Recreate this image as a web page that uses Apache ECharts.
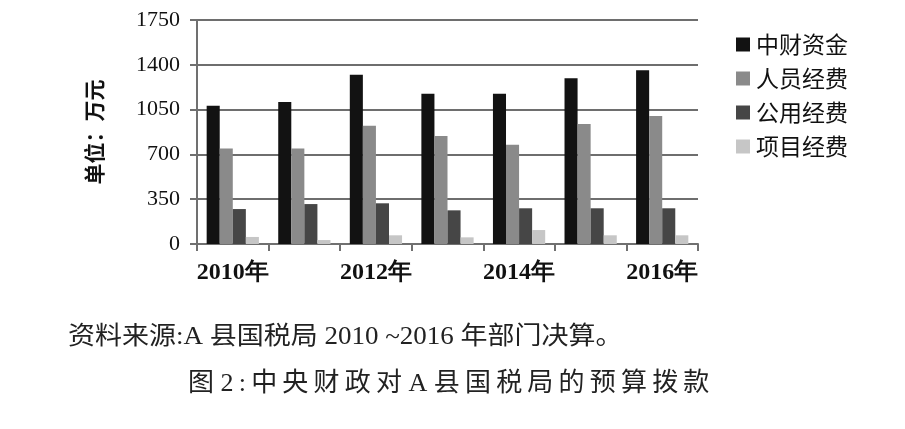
<!DOCTYPE html>
<html>
<head>
<meta charset="utf-8">
<script src="https://cdn.jsdelivr.net/npm/echarts@6/dist/echarts.min.js"></script>
<style>html,body{margin:0;padding:0;background:#fff;}#c{width:905px;height:429px;}</style>
</head>
<body>
<div id="c"></div>
<script>
const categories = ['2010年','2011年','2012年','2013年','2014年','2015年','2016年'];
const seriesNames = ['中财资金','人员经费','公用经费','项目经费'];
const zhongcai = [1081, 1109, 1323, 1174, 1174, 1294, 1357];
const renyuan = [747, 747, 924, 844, 776, 937, 1000];
const gongyong = [273, 312, 318, 263, 279, 279, 279];
const xiangmu = [55, 31, 68, 52, 109, 68, 68];
const yTicks = [0, 350, 700, 1050, 1400, 1750];
const colors = ['#121212', '#8a8a8a', '#464646', '#c6c6c6'];
const values = [zhongcai, renyuan, gongyong, xiangmu];
const noteText = '资料来源:A 县国税局 2010 ~2016 年部门决算。';
const titleText = '图 2:中央财政对 A 县国税局的预算拨款';

const spaced = s => {
  const ch = Array.from(s);
  let out = '';
  ch.forEach((c, i) => {
    out += c;
    if (i < ch.length - 1 && c !== ' ' && ch[i + 1] !== ' ') out += '\u2009';
  });
  return out;
};

const chart = echarts.init(document.getElementById('c'));
chart.setOption({
  animation: false,
  backgroundColor: '#fff',
  grid: { left: 197, right: 207, top: 20, bottom: 185 },
  legend: {
    orient: 'vertical',
    left: 731, top: 28,
    itemWidth: 14, itemHeight: 14, itemGap: 11,
    icon: 'rect',
    textStyle: { fontFamily: 'Noto Sans CJK SC', fontSize: 23, color: '#111', padding: [0,0,0,1] },
    data: seriesNames
  },
  xAxis: {
    type: 'category',
    data: categories,
    boundaryGap: true,
    axisLine: { lineStyle: { color: '#707070', width: 2 } },
    axisTick: { show: true, length: 7, interval: 0, lineStyle: { color: '#707070', width: 2 } },
    axisLabel: { interval: 1, margin: 17, fontFamily: 'Liberation Serif', fontWeight: 'bold', fontSize: 24, color: '#111' }
  },
  yAxis: {
    type: 'value',
    min: yTicks[0], max: yTicks[yTicks.length - 1], interval: 350,
    name: '单位：万元',
    nameLocation: 'middle',
    nameRotate: 90,
    nameGap: 92,
    nameTextStyle: { fontFamily: 'Noto Sans CJK SC', fontWeight: 'bold', fontSize: 21, color: '#111' },
    axisLine: { show: true, lineStyle: { color: '#707070', width: 2 } },
    axisTick: { show: true, length: 7, lineStyle: { color: '#707070', width: 2 } },
    axisLabel: { margin: 17, fontFamily: 'Liberation Serif', fontSize: 22, color: '#111', formatter: v => String(v) },
    splitLine: { lineStyle: { color: '#6e6e6e', width: 2 } }
  },
  series: seriesNames.map((n, i) => ({
    name: n, type: 'bar', data: values[i],
    barGap: '0%', barCategoryGap: '27%',
    itemStyle: { color: colors[i] }
  })),
  graphic: [
    { type: 'text', x: 68, y: 325, scaleX: 1.08, style: { text: noteText, fontFamily: 'Liberation Serif, Noto Sans CJK SC', fontSize: 25, fill: '#222' } },
    { type: 'text', x: 188, y: 371, style: { text: spaced(titleText), fontFamily: 'Liberation Serif, Noto Sans CJK SC', fontSize: 26, fill: '#222' } }
  ]
});
</script>
</body>
</html>
